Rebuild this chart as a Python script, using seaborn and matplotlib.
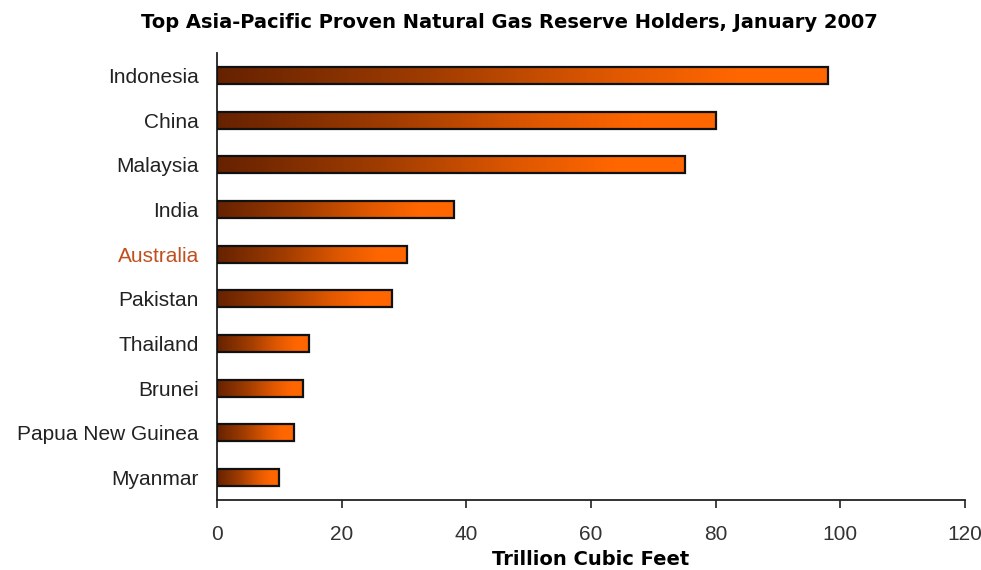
import numpy as np
import pandas as pd
import matplotlib
matplotlib.use("Agg")
import matplotlib.pyplot as plt
from matplotlib.colors import LinearSegmentedColormap
import seaborn as sns

# data
countries = ["Indonesia", "China", "Malaysia", "India", "Australia",
             "Pakistan", "Thailand", "Brunei", "Papua New Guinea", "Myanmar"]
reserves = [98.0, 80.0, 75.0, 38.0, 30.5, 28.0, 14.8, 13.8, 12.3, 10.0]
x_ticks = [0, 20, 40, 60, 80, 100, 120]

df = pd.DataFrame({"country": countries, "tcf": reserves})

sns.set_theme(style="white")
plt.rcParams["font.family"] = ["Liberation Sans", "DejaVu Sans"]

fig = plt.figure(figsize=(9.81, 5.70), dpi=100)
ax = fig.add_axes([0.2212, 0.1228, 0.7625, 0.784])

sns.barplot(data=df, x="tcf", y="country", orient="h", width=0.38,
            color="#ff6600", ax=ax)

# per-bar horizontal gradient, dark brown -> orange
cmap = LinearSegmentedColormap.from_list(
    "gas", [(0.0, "#662200"), (0.35, "#a03c00"), (0.65, "#e05800"),
            (0.85, "#ff6600"), (1.0, "#ff6600")])
grad = np.linspace(0, 1, 256).reshape(1, -1)
for p in ax.patches:
    x0, y0 = p.get_x(), p.get_y()
    w, h = p.get_width(), p.get_height()
    im = ax.imshow(grad, cmap=cmap, aspect="auto", extent=[x0, x0 + w, y0 + h, y0],
                   zorder=2, interpolation="bilinear")
    im.set_clip_path(p)
    p.set_facecolor("none")
    p.set_edgecolor("#111111")
    p.set_linewidth(1.6)
    p.set_zorder(3)

ax.set_xlim(0, 120)
ax.set_ylim(len(countries) - 0.5, -0.5)
ax.set_xticks(x_ticks)
ax.set_xticklabels([str(t) for t in x_ticks], fontsize=15, color="#333333")
ax.tick_params(axis="x", bottom=True, direction="out", length=6, width=1.2,
               color="#222222", pad=12)
ax.tick_params(axis="y", left=False, length=0, pad=13, labelsize=15)
for lab in ax.get_yticklabels():
    lab.set_color("#c05020" if lab.get_text() == "Australia" else "#222222")

for side in ["top", "right"]:
    ax.spines[side].set_visible(False)
for side in ["left", "bottom"]:
    ax.spines[side].set_color("#222222")
    ax.spines[side].set_linewidth(1.3)

ax.set_ylabel("")
ax.set_xlabel("Trillion Cubic Feet", fontsize=14, fontweight="bold", labelpad=4,
              family=["DejaVu Sans"], color="black")
fig.suptitle("Top Asia-Pacific Proven Natural Gas Reserve Holders, January 2007",
             x=0.519, y=0.978, fontsize=14, fontweight="bold", family=["DejaVu Sans"],
             color="black")

fig.savefig("out.png", dpi=100, facecolor="white")
